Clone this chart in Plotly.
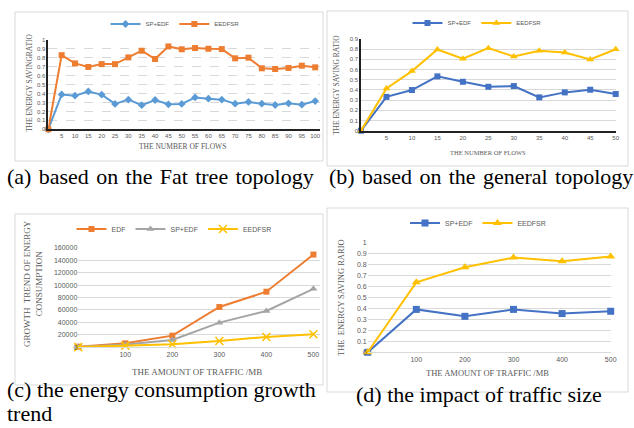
import plotly.graph_objects as go

W, H = 634, 428

# ---------------- data ----------------
# (a) Fat tree topology
flows_a = [0, 5, 10, 15, 20, 25, 30, 35, 40, 45, 50, 55, 60, 65, 70, 75, 80, 85, 90, 95, 100]
a_sp_edf = [0, 0.39, 0.377, 0.424, 0.388, 0.284, 0.332, 0.27, 0.328, 0.28, 0.284, 0.357, 0.343, 0.332,
            0.287, 0.306, 0.287, 0.272, 0.291, 0.276, 0.316]
a_eedfsr = [0, 0.83, 0.738, 0.698, 0.73, 0.73, 0.805, 0.88, 0.787, 0.928, 0.896, 0.91, 0.902, 0.898,
            0.795, 0.802, 0.683, 0.675, 0.687, 0.712, 0.694]
# (b) general topology
flows_b = [0, 5, 10, 15, 20, 25, 30, 35, 40, 45, 50]
b_sp_edf = [0, 0.332, 0.399, 0.533, 0.48, 0.431, 0.438, 0.327, 0.376, 0.402, 0.36]
b_eedfsr = [0, 0.415, 0.585, 0.797, 0.706, 0.81, 0.729, 0.784, 0.768, 0.699, 0.80]
# (c) energy consumption growth trend
traffic = [0, 100, 200, 300, 400, 500]
c_edf = [1000, 6400, 18700, 64700, 89300, 149000]
c_sp_edf = [500, 4300, 11800, 39600, 58300, 94000]
c_eedfsr = [300, 2700, 4800, 10200, 16600, 20900]
# (d) impact of traffic size
d_sp_edf = [0, 0.39, 0.327, 0.39, 0.352, 0.373]
d_eedfsr = [0, 0.636, 0.773, 0.861, 0.827, 0.87]

ratio_ticks = [0, 0.1, 0.2, 0.3, 0.4, 0.5, 0.6, 0.7, 0.8, 0.9, 1]
ratio_labels = ["0", "0.1", "0.2", "0.3", "0.4", "0.5", "0.6", "0.7", "0.8", "0.9", "1"]
energy_ticks = [0, 20000, 40000, 60000, 80000, 100000, 120000, 140000, 160000]

BLUE_L = "#5B9BD5"
BLUE = "#4472C4"
ORANGE = "#ED7D31"
GRAY = "#A5A5A5"
YELLOW = "#FFC000"
TXT = "#595959"
GRID = "#D9D9D9"
SERIF = "Liberation Serif"
SANS = "Liberation Sans"


def fx(px):
    return px / W


def fy(py):
    return 1 - py / H


fig = go.Figure()

# ---------- traces ----------
fig.add_trace(go.Scatter(x=flows_a, y=a_sp_edf, name="SP+EDF", mode="lines+markers",
                         line=dict(color=BLUE_L, width=2), marker=dict(symbol="diamond", size=6),
                         xaxis="x", yaxis="y", legend="legend", cliponaxis=False))
fig.add_trace(go.Scatter(x=flows_a, y=a_eedfsr, name="EEDFSR", mode="lines+markers",
                         line=dict(color=ORANGE, width=2), marker=dict(symbol="square", size=6),
                         xaxis="x", yaxis="y", legend="legend", cliponaxis=False))

fig.add_trace(go.Scatter(x=flows_b, y=b_sp_edf, name="SP+EDF", mode="lines+markers",
                         line=dict(color=BLUE, width=2), marker=dict(symbol="square", size=6),
                         xaxis="x2", yaxis="y2", legend="legend2", cliponaxis=False))
fig.add_trace(go.Scatter(x=flows_b, y=b_eedfsr, name="EEDFSR", mode="lines+markers",
                         line=dict(color=YELLOW, width=2), marker=dict(symbol="triangle-up", size=7),
                         xaxis="x2", yaxis="y2", legend="legend2", cliponaxis=False))

fig.add_trace(go.Scatter(x=traffic, y=c_edf, name="EDF", mode="lines+markers",
                         line=dict(color=ORANGE, width=2), marker=dict(symbol="square", size=6),
                         xaxis="x3", yaxis="y3", legend="legend3", cliponaxis=False))
fig.add_trace(go.Scatter(x=traffic, y=c_sp_edf, name="SP+EDF", mode="lines+markers",
                         line=dict(color=GRAY, width=2), marker=dict(symbol="triangle-up", size=7),
                         xaxis="x3", yaxis="y3", legend="legend3", cliponaxis=False))
fig.add_trace(go.Scatter(x=traffic, y=c_eedfsr, name="EEDFSR", mode="lines+markers",
                         line=dict(color=YELLOW, width=2),
                         marker=dict(symbol="x-thin", size=8, line=dict(color=YELLOW, width=1.5)),
                         xaxis="x3", yaxis="y3", legend="legend3", cliponaxis=False))

fig.add_trace(go.Scatter(x=traffic, y=d_sp_edf, name="SP+EDF", mode="lines+markers",
                         line=dict(color=BLUE, width=2), marker=dict(symbol="square", size=7),
                         xaxis="x4", yaxis="y4", legend="legend4", cliponaxis=False))
fig.add_trace(go.Scatter(x=traffic, y=d_eedfsr, name="EEDFSR", mode="lines+markers",
                         line=dict(color=YELLOW, width=2), marker=dict(symbol="triangle-up", size=8),
                         xaxis="x4", yaxis="y4", legend="legend4", cliponaxis=False))

tickfont_s = lambda s: dict(family=SANS, size=s, color=TXT)
common = dict(automargin=False, ticks="", zeroline=False, fixedrange=True)

layout = dict(
    template="none",
    width=W, height=H, margin=dict(l=0, r=0, t=0, b=0, autoexpand=False),
    paper_bgcolor="white", plot_bgcolor="rgba(0,0,0,0)",
    # (a)
    xaxis=dict(domain=[fx(48.3), fx(320)], range=[0, 101.8], tickvals=flows_a[1:],
               tickfont=tickfont_s(6), showgrid=False, showline=True, linecolor="#222222", linewidth=1.5,
               anchor="y", **common),
    yaxis=dict(domain=[fy(129.3), fy(40)], range=[0, 1], tickvals=ratio_ticks, ticktext=ratio_labels,
               tickfont=tickfont_s(6), showgrid=True, gridcolor=GRID, griddash="dash", gridwidth=1,
               showline=True, linecolor="#222222", linewidth=1.5, anchor="x", **common),
    # (b)
    xaxis2=dict(domain=[fx(361), fx(615.7)], range=[0, 50], tickvals=flows_b[1:],
                tickfont=tickfont_s(6), showgrid=False, showline=True, linecolor="#222222", linewidth=1.5,
                anchor="y2", **common),
    yaxis2=dict(domain=[fy(130.7), fy(39)], range=[0, 0.9], tickvals=ratio_ticks[:10],
                ticktext=ratio_labels[:10], tickfont=tickfont_s(6), showgrid=True, gridcolor=GRID,
                showline=True, linecolor="#222222", linewidth=1.5, anchor="x2", **common),
    # (c)
    xaxis3=dict(domain=[fx(78.3), fx(320)], range=[0, 514], tickvals=traffic[1:],
                tickfont=tickfont_s(7), showgrid=False, showline=True, linecolor=GRID, linewidth=1,
                anchor="y3", **common),
    yaxis3=dict(domain=[fy(347.3), fy(247.7)], range=[0, 160000], tickvals=energy_ticks,
                tickformat="d", tickfont=tickfont_s(7), showgrid=True, gridcolor=GRID,
                showline=False, anchor="x3", **common),
    # (d)
    xaxis4=dict(domain=[fx(367.7), fx(610.7)], range=[0, 500], tickvals=traffic[1:],
                tickfont=tickfont_s(7), showgrid=False, showline=True, linecolor=GRID, linewidth=1,
                anchor="y4", **common),
    yaxis4=dict(domain=[fy(352.3), fy(242.3)], range=[0, 1], tickvals=ratio_ticks, ticktext=ratio_labels,
                tickfont=tickfont_s(7), showgrid=True, gridcolor=GRID,
                showline=False, anchor="x4", **common),
)

leg = lambda x, y, s: dict(orientation="h", x=fx(x), y=fy(y), xanchor="center", yanchor="middle",
                          font=dict(family=SANS, size=s, color=TXT), bgcolor="rgba(0,0,0,0)",
                          itemwidth=30, tracegroupgap=0, borderwidth=0)
layout["legend"] = leg(175, 24, 6)
layout["legend2"] = leg(477, 23, 6)
layout["legend3"] = leg(174, 229, 7)
layout["legend4"] = leg(478, 223, 7)
fig.update_layout(**layout)

# panel borders
for x0, y0, x1, y1 in [(15, 12, 323, 161), (327, 11, 628, 166), (15, 214, 323, 385), (327, 208, 628, 392)]:
    fig.add_shape(type="rect", xref="paper", yref="paper", x0=fx(x0), x1=fx(x1), y0=fy(y1), y1=fy(y0),
                  line=dict(color="#D9D9D9", width=1), fillcolor="rgba(0,0,0,0)", layer="below")

# axis titles
def ann(text, x, y, size, angle=0, color=TXT, family=SERIF, xanchor="center"):
    fig.add_annotation(text=text, x=fx(x), y=fy(y), xref="paper", yref="paper", showarrow=False,
                       textangle=angle, xanchor=xanchor, yanchor="middle",
                       font=dict(family=family, size=size, color=color))

ann("THE NUMBER OF FLOWS", 182, 146, 7.5)
ann("THE ENERGY SAVINGRATIO", 29, 83, 7.5, angle=-90)
ann("THE NUMBER OF FLOWS", 488, 152, 6.5)
ann("THE ENERGY SAVING RATIO", 336, 85, 7.5, angle=-90)
ann("THE AMOUNT OF TRAFFIC /MB", 197, 372, 9)
ann("GROWTH  TREND OF ENERGY<br>CONSUMPTION", 33, 284, 9, angle=-90)
ann("THE AMOUNT OF TRAFFIC /MB", 487, 373, 8.5)
ann("THE  ENERGY SAVING RARIO", 341, 298, 8.5, angle=-90)

# captions
hs = "\u200a"
ann(hs.join(["(a) ", "based ", "on ", "the ", "Fat ", "tree ", "topology"]), 5, 176, 22,
    color="black", xanchor="left")
ann(hs.join(["(b) ", "based ", "on ", "the ", "general ", "topology"]), 327, 177, 22,
    color="black", xanchor="left")
ann("(c) the energy consumption growth", 5, 389, 22, color="black", xanchor="left")
ann("trend", 5, 413, 22, color="black", xanchor="left")
ann("(d) the impact of traffic size", 354, 394, 22, color="black", xanchor="left")

fig.write_html("out.html", config={"displayModeBar": False},
               post_script="document.body.style.margin='0px';")
